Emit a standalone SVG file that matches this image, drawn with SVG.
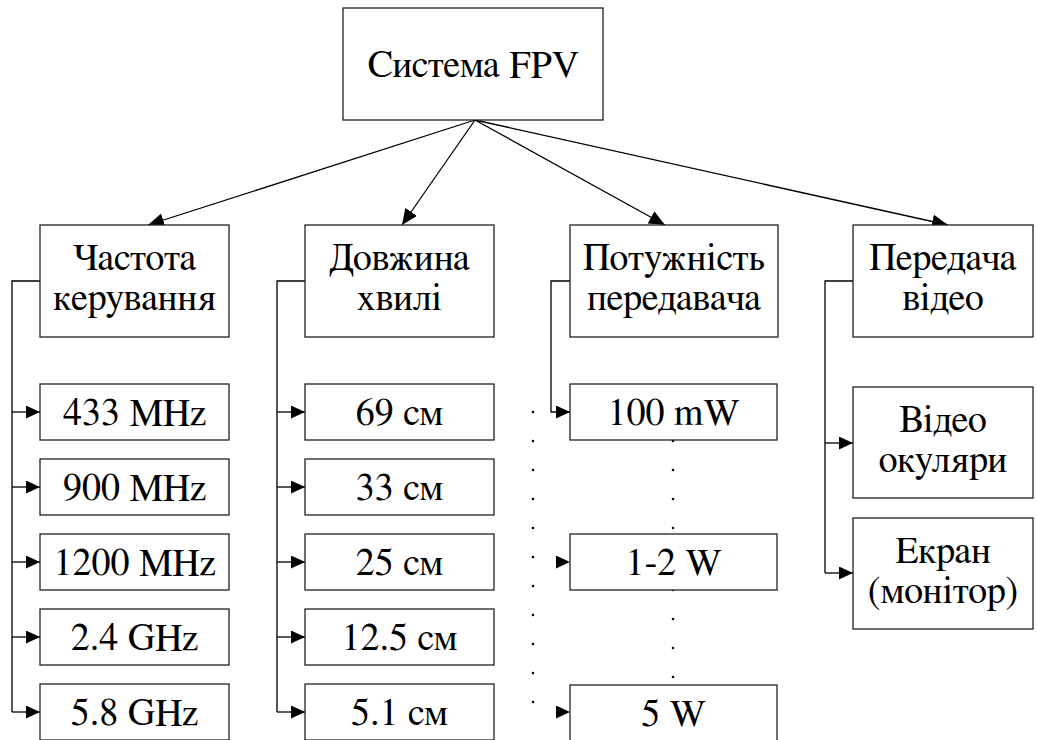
<svg xmlns="http://www.w3.org/2000/svg" width="1037" height="740" viewBox="0 0 1037 740">
<style>
.box{fill:#fff;stroke:#222;stroke-width:1.3}
text{font-family:'FreeSerif','Liberation Serif','Times New Roman',serif;font-size:38px;fill:#000;text-anchor:middle}
.c{fill:none;stroke:#000;stroke-width:1.3}
.d{fill:none;stroke:#000;stroke-width:2.6;stroke-linecap:round;stroke-dasharray:0 29}
.s{fill:none;stroke:none}
</style>
<defs>
<marker id="ah" markerUnits="userSpaceOnUse" markerWidth="18" markerHeight="16" refX="16" refY="7" orient="auto">
<path d="M0,0 L16,7 L0,14 z" fill="#000"/>
</marker>
<marker id="as" markerUnits="userSpaceOnUse" markerWidth="16" markerHeight="14" refX="14" refY="6.5" orient="auto">
<path d="M0,0 L14,6.5 L0,13 z" fill="#000"/>
</marker>
</defs>
<rect width="1037" height="740" fill="#fff"/>
<g id="connectors">
<path class="c" d="M475,120 L148,225" marker-end="url(#ah)"/>
<path class="c" d="M475,120 L402,225" marker-end="url(#ah)"/>
<path class="c" d="M475,120 L665,225" marker-end="url(#ah)"/>
<path class="c" d="M475,120 L948,225" marker-end="url(#ah)"/>
<path class="c" d="M40,281 H12 V712"/>
<path class="c" d="M12,412 H40" marker-end="url(#as)"/>
<path class="c" d="M12,487 H40" marker-end="url(#as)"/>
<path class="c" d="M12,562 H40" marker-end="url(#as)"/>
<path class="c" d="M12,637 H40" marker-end="url(#as)"/>
<path class="c" d="M12,712 H40" marker-end="url(#as)"/>
<path class="c" d="M305,281 H277 V712"/>
<path class="c" d="M277,412 H305" marker-end="url(#as)"/>
<path class="c" d="M277,487 H305" marker-end="url(#as)"/>
<path class="c" d="M277,562 H305" marker-end="url(#as)"/>
<path class="c" d="M277,637 H305" marker-end="url(#as)"/>
<path class="c" d="M277,712 H305" marker-end="url(#as)"/>
<path class="c" d="M570,281 H551 V412 H570" marker-end="url(#as)"/>
<path class="s" d="M551,562 H570" marker-end="url(#as)"/>
<path class="s" d="M551,712 H570" marker-end="url(#as)"/>
<path class="d" d="M533,412 V703"/>
<path class="d" d="M673,441 V530"/>
<path class="d" d="M673,590 V680"/>
<path class="c" d="M853,281 H825 V573"/>
<path class="c" d="M825,443 H853" marker-end="url(#as)"/>
<path class="c" d="M825,573 H853" marker-end="url(#as)"/>
</g>
<g id="n-root"><rect class="box" x="343" y="8" width="260" height="112"/><text x="473" y="77">Система FPV</text></g>
<g id="n-freq"><rect class="box" x="40" y="225" width="189" height="112"/><text x="134.5" y="270">Частота</text><text x="134.5" y="310">керування</text></g>
<g id="n-wave"><rect class="box" x="305" y="225" width="189" height="112"/><text x="399.5" y="270">Довжина</text><text x="399.5" y="310">хвилі</text></g>
<g id="n-power"><rect class="box" x="570" y="225" width="208" height="112"/><text x="674" y="270">Потужність</text><text x="674" y="310">передавача</text></g>
<g id="n-video"><rect class="box" x="853" y="225" width="180" height="112"/><text x="943" y="270">Передача</text><text x="943" y="310">відео</text></g>
<g id="n-f1"><rect class="box" x="40" y="384" width="189" height="56"/><text x="134.5" y="425">433 MHz</text></g>
<g id="n-f2"><rect class="box" x="40" y="459" width="189" height="56"/><text x="134.5" y="500">900 MHz</text></g>
<g id="n-f3"><rect class="box" x="40" y="534" width="189" height="56"/><text x="134.5" y="575">1200 MHz</text></g>
<g id="n-f4"><rect class="box" x="40" y="609" width="189" height="56"/><text x="134.5" y="650">2.4 GHz</text></g>
<g id="n-f5"><rect class="box" x="40" y="684" width="189" height="56"/><text x="134.5" y="725">5.8 GHz</text></g>
<g id="n-w1"><rect class="box" x="305" y="384" width="189" height="56"/><text x="399.5" y="425">69 см</text></g>
<g id="n-w2"><rect class="box" x="305" y="459" width="189" height="56"/><text x="399.5" y="500">33 см</text></g>
<g id="n-w3"><rect class="box" x="305" y="534" width="189" height="56"/><text x="399.5" y="575">25 см</text></g>
<g id="n-w4"><rect class="box" x="305" y="609" width="189" height="56"/><text x="399.5" y="650">12.5 см</text></g>
<g id="n-w5"><rect class="box" x="305" y="684" width="189" height="56"/><text x="399.5" y="725">5.1 см</text></g>
<g id="n-p1"><rect class="box" x="570" y="384" width="207" height="56"/><text x="673.5" y="425">100 mW</text></g>
<g id="n-p2"><rect class="box" x="570" y="534" width="207" height="56"/><text x="673.5" y="575">1-2 W</text></g>
<g id="n-p3"><rect class="box" x="570" y="685" width="207" height="56"/><text x="673.5" y="726">5 W</text></g>
<g id="n-v1"><rect class="box" x="853" y="387" width="180" height="111"/><text x="943" y="432">Відео</text><text x="943" y="472">окуляри</text></g>
<g id="n-v2"><rect class="box" x="853" y="518" width="180" height="111"/><text x="943" y="563">Екран</text><text x="943" y="603">(монітор)</text></g>
</svg>
